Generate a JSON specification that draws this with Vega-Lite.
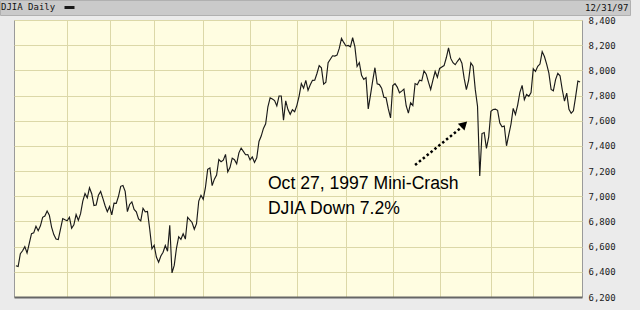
{
  "$schema": "https://vega.github.io/schema/vega-lite/v6.json",
  "width": 568,
  "height": 277,
  "padding": {"left": 14, "top": 20, "right": 58, "bottom": 13},
  "autosize": {"type": "none"},
  "background": "#ebebeb",
  "config": {
    "view": {"fill": "#fffde1", "stroke": "#9a9a9a", "strokeWidth": 1},
    "axis": {"labelOverlap": false}
  },
  "datasets": {
    "djia": [
      {"date":"1996-12-31","close":6448},
      {"date":"1997-01-02","close":6442},{"date":"1997-01-03","close":6544},{"date":"1997-01-06","close":6567},{"date":"1997-01-07","close":6600},{"date":"1997-01-08","close":6549},{"date":"1997-01-09","close":6625},{"date":"1997-01-10","close":6703},{"date":"1997-01-13","close":6709},{"date":"1997-01-14","close":6762},{"date":"1997-01-15","close":6726},{"date":"1997-01-16","close":6765},{"date":"1997-01-17","close":6833},{"date":"1997-01-20","close":6843},{"date":"1997-01-21","close":6883},{"date":"1997-01-22","close":6850},{"date":"1997-01-23","close":6755},{"date":"1997-01-24","close":6696},{"date":"1997-01-27","close":6660},{"date":"1997-01-28","close":6656},{"date":"1997-01-29","close":6740},{"date":"1997-01-30","close":6823},{"date":"1997-01-31","close":6813},
      {"date":"1997-02-03","close":6806},{"date":"1997-02-04","close":6833},{"date":"1997-02-05","close":6746},{"date":"1997-02-06","close":6773},{"date":"1997-02-07","close":6855},{"date":"1997-02-10","close":6809},{"date":"1997-02-11","close":6862},{"date":"1997-02-12","close":6961},{"date":"1997-02-13","close":7022},{"date":"1997-02-14","close":6988},{"date":"1997-02-18","close":7067},{"date":"1997-02-19","close":7020},{"date":"1997-02-20","close":6927},{"date":"1997-02-21","close":6931},{"date":"1997-02-24","close":7008},{"date":"1997-02-25","close":7038},{"date":"1997-02-26","close":6983},{"date":"1997-02-27","close":6925},{"date":"1997-02-28","close":6877},
      {"date":"1997-03-03","close":6918},{"date":"1997-03-04","close":6852},{"date":"1997-03-05","close":6945},{"date":"1997-03-06","close":6944},{"date":"1997-03-07","close":7000},{"date":"1997-03-10","close":7079},{"date":"1997-03-11","close":7085},{"date":"1997-03-12","close":7039},{"date":"1997-03-13","close":6878},{"date":"1997-03-14","close":6935},{"date":"1997-03-17","close":6955},{"date":"1997-03-18","close":6896},{"date":"1997-03-19","close":6877},{"date":"1997-03-20","close":6820},{"date":"1997-03-21","close":6804},{"date":"1997-03-24","close":6905},{"date":"1997-03-25","close":6876},{"date":"1997-03-26","close":6880},{"date":"1997-03-27","close":6740},{"date":"1997-03-31","close":6583},
      {"date":"1997-04-01","close":6611},{"date":"1997-04-02","close":6517},{"date":"1997-04-03","close":6477},{"date":"1997-04-04","close":6526},{"date":"1997-04-07","close":6555},{"date":"1997-04-08","close":6609},{"date":"1997-04-09","close":6564},{"date":"1997-04-10","close":6770},{"date":"1997-04-11","close":6391},{"date":"1997-04-14","close":6451},{"date":"1997-04-15","close":6587},{"date":"1997-04-16","close":6679},{"date":"1997-04-17","close":6658},{"date":"1997-04-18","close":6703},{"date":"1997-04-21","close":6660},{"date":"1997-04-22","close":6833},{"date":"1997-04-23","close":6812},{"date":"1997-04-24","close":6792},{"date":"1997-04-25","close":6738},{"date":"1997-04-28","close":6783},{"date":"1997-04-29","close":6962},{"date":"1997-04-30","close":7008},
      {"date":"1997-05-01","close":6976},{"date":"1997-05-02","close":7071},{"date":"1997-05-05","close":7214},{"date":"1997-05-06","close":7225},{"date":"1997-05-07","close":7085},{"date":"1997-05-08","close":7136},{"date":"1997-05-09","close":7169},{"date":"1997-05-12","close":7292},{"date":"1997-05-13","close":7274},{"date":"1997-05-14","close":7287},{"date":"1997-05-15","close":7333},{"date":"1997-05-16","close":7194},{"date":"1997-05-19","close":7228},{"date":"1997-05-20","close":7303},{"date":"1997-05-21","close":7290},{"date":"1997-05-22","close":7258},{"date":"1997-05-23","close":7345},{"date":"1997-05-27","close":7383},{"date":"1997-05-28","close":7357},{"date":"1997-05-29","close":7330},{"date":"1997-05-30","close":7331},
      {"date":"1997-06-02","close":7289},{"date":"1997-06-03","close":7312},{"date":"1997-06-04","close":7269},{"date":"1997-06-05","close":7305},{"date":"1997-06-06","close":7435},{"date":"1997-06-09","close":7478},{"date":"1997-06-10","close":7539},{"date":"1997-06-11","close":7575},{"date":"1997-06-12","close":7711},{"date":"1997-06-13","close":7782},{"date":"1997-06-16","close":7772},{"date":"1997-06-17","close":7760},{"date":"1997-06-18","close":7718},{"date":"1997-06-19","close":7796},{"date":"1997-06-20","close":7796},{"date":"1997-06-23","close":7604},{"date":"1997-06-24","close":7758},{"date":"1997-06-25","close":7689},{"date":"1997-06-26","close":7651},{"date":"1997-06-27","close":7687},{"date":"1997-06-30","close":7672},
      {"date":"1997-07-01","close":7722},{"date":"1997-07-02","close":7796},{"date":"1997-07-03","close":7895},{"date":"1997-07-07","close":7858},{"date":"1997-07-08","close":7921},{"date":"1997-07-09","close":7842},{"date":"1997-07-10","close":7886},{"date":"1997-07-11","close":7921},{"date":"1997-07-14","close":7922},{"date":"1997-07-15","close":7975},{"date":"1997-07-16","close":8038},{"date":"1997-07-17","close":8020},{"date":"1997-07-18","close":7890},{"date":"1997-07-21","close":7906},{"date":"1997-07-22","close":8061},{"date":"1997-07-23","close":8088},{"date":"1997-07-24","close":8116},{"date":"1997-07-25","close":8113},{"date":"1997-07-28","close":8121},{"date":"1997-07-29","close":8174},{"date":"1997-07-30","close":8254},{"date":"1997-07-31","close":8222},
      {"date":"1997-08-01","close":8194},{"date":"1997-08-04","close":8198},{"date":"1997-08-05","close":8187},{"date":"1997-08-06","close":8259},{"date":"1997-08-07","close":8188},{"date":"1997-08-08","close":8031},{"date":"1997-08-11","close":8062},{"date":"1997-08-12","close":7960},{"date":"1997-08-13","close":7928},{"date":"1997-08-14","close":7942},{"date":"1997-08-15","close":7694},{"date":"1997-08-18","close":7803},{"date":"1997-08-19","close":7918},{"date":"1997-08-20","close":8021},{"date":"1997-08-21","close":7893},{"date":"1997-08-22","close":7887},{"date":"1997-08-25","close":7859},{"date":"1997-08-26","close":7787},{"date":"1997-08-27","close":7782},{"date":"1997-08-28","close":7694},{"date":"1997-08-29","close":7622},
      {"date":"1997-09-02","close":7879},{"date":"1997-09-03","close":7894},{"date":"1997-09-04","close":7867},{"date":"1997-09-05","close":7822},{"date":"1997-09-08","close":7835},{"date":"1997-09-09","close":7851},{"date":"1997-09-10","close":7719},{"date":"1997-09-11","close":7660},{"date":"1997-09-12","close":7742},{"date":"1997-09-15","close":7721},{"date":"1997-09-16","close":7895},{"date":"1997-09-17","close":7886},{"date":"1997-09-18","close":7922},{"date":"1997-09-19","close":7917},{"date":"1997-09-22","close":7996},{"date":"1997-09-23","close":7970},{"date":"1997-09-24","close":7906},{"date":"1997-09-25","close":7848},{"date":"1997-09-26","close":7922},{"date":"1997-09-29","close":7991},{"date":"1997-09-30","close":7945},
      {"date":"1997-10-01","close":8015},{"date":"1997-10-02","close":8027},{"date":"1997-10-03","close":8038},{"date":"1997-10-06","close":8100},{"date":"1997-10-07","close":8178},{"date":"1997-10-08","close":8095},{"date":"1997-10-09","close":8061},{"date":"1997-10-10","close":8045},{"date":"1997-10-13","close":8072},{"date":"1997-10-14","close":8096},{"date":"1997-10-15","close":8057},{"date":"1997-10-16","close":7938},{"date":"1997-10-17","close":7847},{"date":"1997-10-20","close":7921},{"date":"1997-10-21","close":8060},{"date":"1997-10-22","close":8034},{"date":"1997-10-23","close":7847},{"date":"1997-10-24","close":7715},{"date":"1997-10-27","close":7161},{"date":"1997-10-28","close":7498},{"date":"1997-10-29","close":7506},{"date":"1997-10-30","close":7381},{"date":"1997-10-31","close":7470},
      {"date":"1997-11-03","close":7674},{"date":"1997-11-04","close":7689},{"date":"1997-11-05","close":7692},{"date":"1997-11-06","close":7683},{"date":"1997-11-07","close":7581},{"date":"1997-11-10","close":7552},{"date":"1997-11-11","close":7558},{"date":"1997-11-12","close":7401},{"date":"1997-11-13","close":7487},{"date":"1997-11-14","close":7572},{"date":"1997-11-17","close":7698},{"date":"1997-11-18","close":7650},{"date":"1997-11-19","close":7724},{"date":"1997-11-20","close":7826},{"date":"1997-11-21","close":7881},{"date":"1997-11-24","close":7767},{"date":"1997-11-25","close":7808},{"date":"1997-11-26","close":7794},{"date":"1997-11-28","close":7823},
      {"date":"1997-12-01","close":8013},{"date":"1997-12-02","close":7991},{"date":"1997-12-03","close":8032},{"date":"1997-12-04","close":8050},{"date":"1997-12-05","close":8149},{"date":"1997-12-08","close":8110},{"date":"1997-12-09","close":8049},{"date":"1997-12-10","close":7978},{"date":"1997-12-11","close":7848},{"date":"1997-12-12","close":7838},{"date":"1997-12-15","close":7926},{"date":"1997-12-16","close":7976},{"date":"1997-12-17","close":7957},{"date":"1997-12-18","close":7846},{"date":"1997-12-19","close":7756},{"date":"1997-12-22","close":7819},{"date":"1997-12-23","close":7691},{"date":"1997-12-24","close":7660},{"date":"1997-12-26","close":7679},{"date":"1997-12-29","close":7792},{"date":"1997-12-30","close":7915},{"date":"1997-12-31","close":7908}
    ],
    "notes": [
      {"date":"1997-06-12","close":7058,"label":"Oct 27, 1997 Mini-Crash"},
      {"date":"1997-06-12","close":6862,"label":"DJIA Down 7.2%"}
    ],
    "arrow": [
      {"date":"1997-09-16","close":7248,"date2":"1997-10-15","close2":7550}
    ],
    "head": [
      {"date":"1997-10-16","close":7572}
    ]
  },
  "encoding": {
    "x": {
      "field": "date", "type": "ordinal",
      "scale": {"type": "point", "padding": 0.85},
      "axis": {
        "orient": "bottom", "title": null, "labels": false, "ticks": false,
        "values": ["1997-02-03","1997-03-03","1997-04-01","1997-05-01","1997-06-02","1997-07-01","1997-08-01","1997-09-02","1997-10-01","1997-11-03","1997-12-01"],
        "grid": true, "gridColor": "#dcd8a8", "gridWidth": 1,
        "domain": true, "domainColor": "#666666", "domainWidth": 2
      }
    },
    "y": {
      "field": "close", "type": "quantitative",
      "scale": {"domain": [6200, 8400], "nice": false, "zero": false},
      "axis": {
        "orient": "right", "title": null, "values": [6200,6400,6600,6800,7000,7200,7400,7600,7800,8000,8200,8400],
        "format": ",d", "labelFont": "DejaVu Sans Mono", "labelFontSize": 9, "labelColor": "#1a1a1a",
        "labelPadding": 6, "labelFlush": false, "labelOverlap": false, "labelBaseline": "middle",
        "ticks": false, "domain": false, "grid": true, "gridColor": "#dcd8a8", "gridWidth": 1
      }
    }
  },
  "layer": [
    {
      "data": {"name": "djia"},
      "mark": {"type": "line", "strokeWidth": 1.15, "interpolate": "linear"},
      "encoding": {
        "stroke": {
          "datum": "DJIA Daily",
          "scale": {"range": ["#1a1a1a"]},
          "legend": {
            "orient": "none", "legendX": -14, "legendY": -20,
            "title": "DJIA Daily", "titleOrient": "left", "titleFont": "DejaVu Sans Mono", "titleFontSize": 9,
            "titleFontWeight": "normal", "titleColor": "#111111", "titlePadding": 7, "titleBaseline": "middle",
            "symbolType": "stroke", "symbolStrokeWidth": 3, "symbolSize": 100, "symbolStrokeColor": "#000000",
            "labelExpr": "'12/31/97\u2003\u2003'", "labelFont": "DejaVu Sans Mono", "labelFontSize": 9, "labelColor": "#111111",
            "labelOffset": 509, "labelLimit": 0,
            "fillColor": "#cacaca", "strokeColor": "#b0b0b0", "padding": 1, "cornerRadius": 0
          }
        }
      }
    },
    {
      "data": {"name": "notes"},
      "mark": {"type": "text", "align": "left", "baseline": "alphabetic", "font": "Liberation Sans", "fontSize": 17.6, "color": "#000000"},
      "encoding": {
        "text": {"field": "label"}
      }
    },
    {
      "data": {"name": "arrow"},
      "mark": {"type": "rule", "strokeWidth": 2.5, "strokeDash": [2.5, 2.5], "color": "#000000", "strokeCap": "butt"},
      "encoding": {
        "x2": {"field": "date2"},
        "y2": {"field": "close2"}
      }
    },
    {
      "data": {"name": "head"},
      "mark": {"type": "point", "shape": "triangle-up", "filled": true, "color": "#000000", "opacity": 1, "size": 90, "angle": 46},
      "encoding": {}
    }
  ]
}
